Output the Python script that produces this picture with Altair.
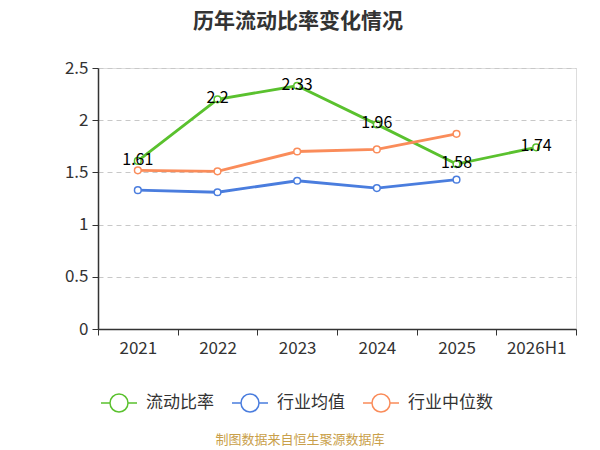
import altair as alt
import pandas as pd

years = ["2021", "2022", "2023", "2024", "2025", "2026H1"]
current_ratio = [1.61, 2.2, 2.33, 1.96, 1.58, 1.74]
industry_mean = [1.33, 1.31, 1.42, 1.35, 1.43, None]
industry_median = [1.52, 1.51, 1.70, 1.72, 1.87, None]

series_names = ["流动比率", "行业均值", "行业中位数"]
colors = ["#5ac12e", "#4a7dde", "#fa8c5a"]

rows = []
for name, vals in zip(series_names, [current_ratio, industry_mean, industry_median]):
    for y, v in zip(years, vals):
        if v is not None:
            rows.append({"year": y, "value": v, "series": name})
df = pd.DataFrame(rows)
labels_df = pd.DataFrame({"year": years, "value": current_ratio})

FONT = "Noto Sans CJK SC"

x_enc = alt.X("year:N", sort=years, bandPosition=0.5,
              scale=alt.Scale(type="band", domain=years, paddingInner=0, paddingOuter=0),
              axis=alt.Axis(title=None, labelAngle=0, tickBand="extent", labelFontSize=17,
                            labelColor="#333333", domainColor="#333333", tickColor="#333333",
                            tickSize=6, labelPadding=5, grid=False, domainWidth=1.5))
y_enc = alt.Y("value:Q", scale=alt.Scale(domain=[0, 2.5], nice=False),
              axis=alt.Axis(title=None, values=[0, 0.5, 1, 1.5, 2, 2.5], format="~g",
                            labelFontSize=17, labelColor="#333333", domainColor="#333333",
                            tickColor="#333333", tickSize=6, labelPadding=4,
                            grid=True, gridDash=[5, 4], gridColor="#c8c8c8", domainWidth=1.5))

color_enc = alt.Color("series:N", scale=alt.Scale(domain=series_names, range=colors),
                      legend=alt.Legend(title=None, orient="none", legendX=2, legendY=316,
                                        direction="horizontal", columns=3,
                                        symbolType="M-1,0L-0.5,0M0.5,0L1,0M0.5,0A0.5,0.5 0 1,1 -0.5,0A0.5,0.5 0 1,1 0.5,0",
                                        symbolSize=1296, symbolStrokeWidth=1.5,
                                        symbolFillColor="white", labelFontSize=17,
                                        labelColor="#333333", labelOffset=8, columnPadding=15,
                                        labelFont=FONT))

base = alt.Chart(df).encode(x=x_enc, y=y_enc, color=color_enc)

lines = base.mark_line(strokeWidth=2.8)
points = base.mark_point(filled=False, fill="white", opacity=1, fillOpacity=1, size=45, strokeWidth=1.5)

labels = alt.Chart(labels_df).mark_text(fontSize=16, color="#000000", dy=-1, font=FONT).encode(
    x=alt.X("year:N", sort=years, bandPosition=0.5),
    y=alt.Y("value:Q"),
    text=alt.Text("value:Q", format="~g"),
)

source = alt.Chart(pd.DataFrame({"t": ["制图数据来自恒生聚源数据库"]})).mark_text(
    fontSize=13, color="#c9a04a", font=FONT
).encode(x=alt.value(202), y=alt.value(372), text="t:N")

chart = alt.layer(lines, points, labels, source).properties(
    width=478, height=261,
    title=alt.TitleParams("历年流动比率变化情况", fontSize=21, fontWeight="bold", color="#333333",
                          font=FONT, anchor="middle", dx=-39, offset=27),
    autosize=alt.AutoSizeParams(type="none"),
    padding={"left": 90, "top": 60, "right": 16, "bottom": 120},
).configure_view(stroke=None).configure(font=FONT)

chart.save("out.html", embed_options={"renderer": "svg", "actions": False})
